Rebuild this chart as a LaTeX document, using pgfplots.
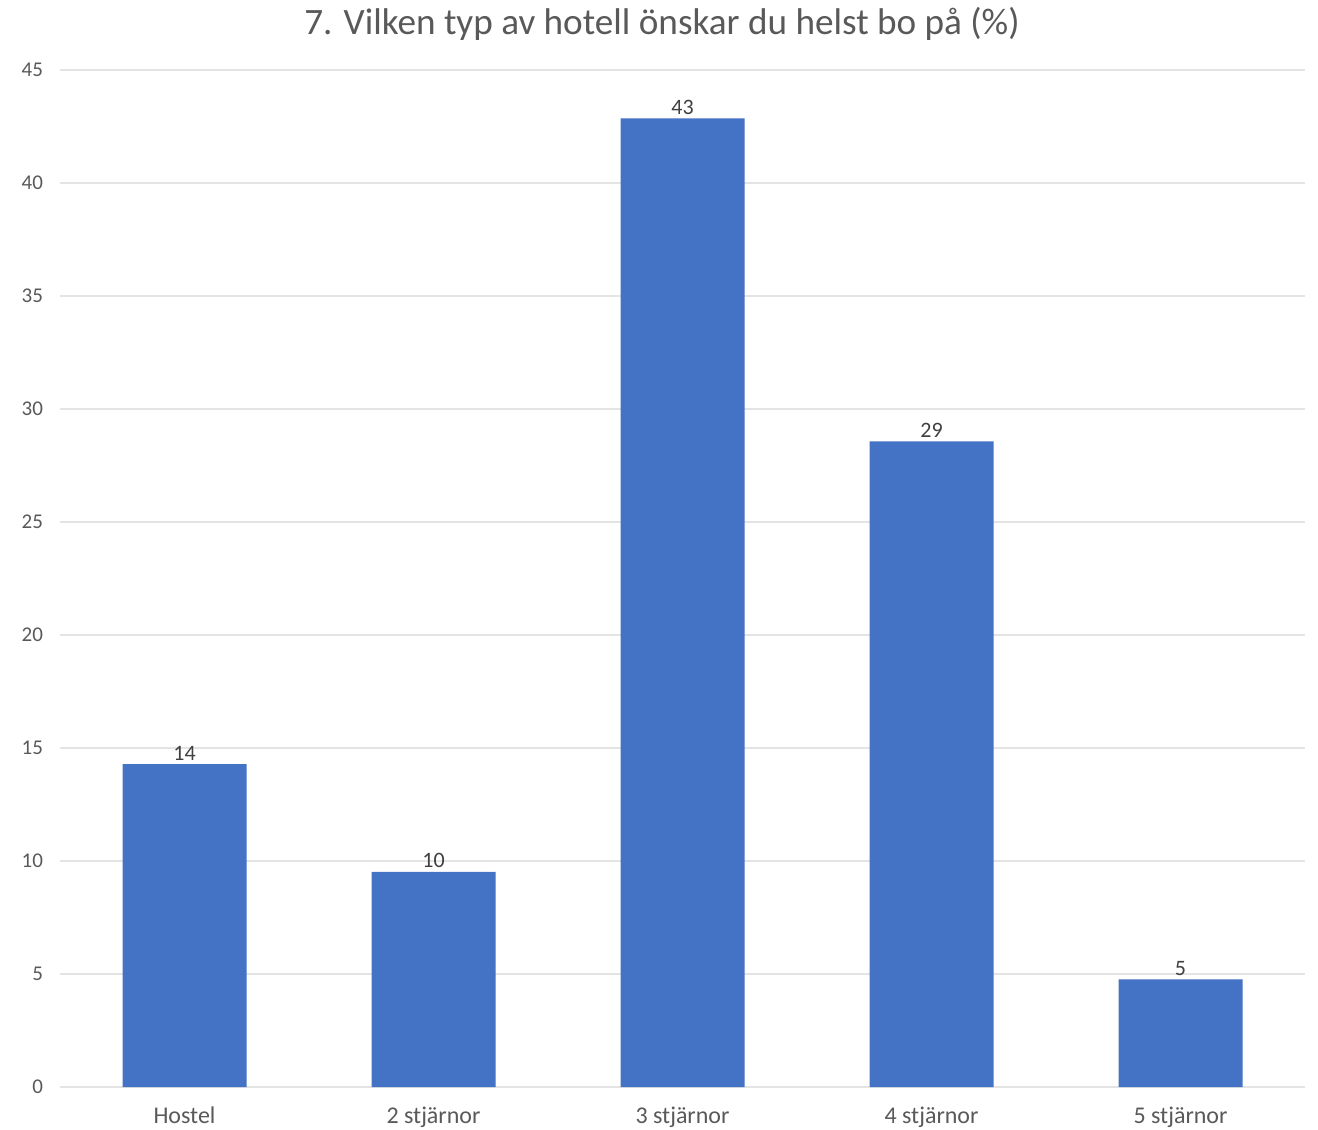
\documentclass[border=0pt]{standalone}
\usepackage{pgfplots}
\pgfplotsset{compat=1.18}
\usepackage{pgfplotstable}
\usepackage{fontspec}
\setmainfont{Carlito}
\definecolor{barblue}{HTML}{4472C4}
\definecolor{txtgrey}{HTML}{595959}
\definecolor{gridgrey}{HTML}{E4E4E4}
\pgfplotstableread{
x y lab
0 14.29 14
1 9.52 10
2 42.86 43
3 28.57 29
4 4.76 5
}\datatable
\begin{document}
\begin{tikzpicture}
\path[use as bounding box] (-30bp,-21.5bp) rectangle (629bp,543.5bp);
\begin{axis}[
  at={(0,0)}, anchor=south west,
  scale only axis,
  width=622.5bp, height=508.5bp,
  xmin=-0.5, xmax=4.5,
  ymin=0, ymax=45,
  ytick={0,5,...,45},
  xtick={0,1,2,3,4},
  xticklabels={Hostel,2 stjärnor,3 stjärnor,4 stjärnor,5 stjärnor},
  axis line style={draw=none},
  major tick length=0pt,
  ymajorgrids,
  grid style={gridgrey, line width=1.3bp},
  /pgf/number format/assume math mode=true,
  yticklabel style={font=\fontsize{10.5bp}{12bp}\selectfont, text=txtgrey, anchor=east, xshift=-5bp},
  xticklabel style={font=\fontsize{12bp}{14bp}\selectfont, text=txtgrey, yshift=-6.5bp},
  ybar,
  bar width=62bp,
  nodes near coords,
  point meta=explicit symbolic,
  every node near coord/.append style={font=\fontsize{11bp}{13bp}\selectfont, text=black!75, yshift=-1.5bp},
  clip=false,
]
\addplot[fill=barblue, draw=none] table[x=x, y=y, meta=lab] {\datatable};
\end{axis}
\node[text=txtgrey, font=\fontsize{18.6bp}{21bp}\selectfont] at (301bp,531.5bp) {7. Vilken typ av hotell önskar du helst bo på (\%)};
\end{tikzpicture}
\end{document}
